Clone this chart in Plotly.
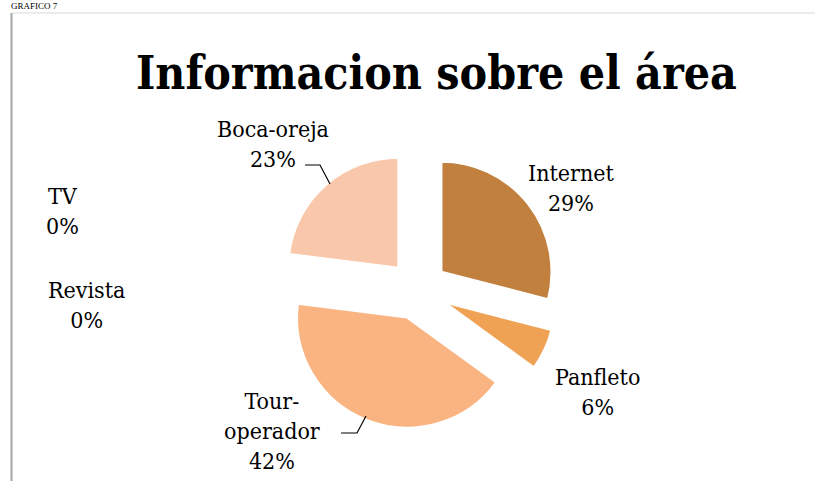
import plotly.graph_objects as go

W, H = 815, 481

categories = ["Internet", "Panfleto", "Tour-operador", "Boca-oreja", "Revista", "TV"]
percentages = [29, 6, 42, 23, 0, 0]
colors = ["#C2803F", "#F0A254", "#F9B481", "#F9C8AA", "#FBD9C4", "#FCE6D8"]
title_text = "Informacion sobre el área"
header_text = "GRAFICO 7"

# label centre positions in pixels (layout only)
label_pos = {
    "Internet": (571, 188),
    "Panfleto": (597, 392),
    "Tour-operador": (272, 431),
    "Boca-oreja": (273, 144),
    "Revista": (86, 305),
    "TV": (62, 211),
}

FONT = "DejaVu Serif Condensed, DejaVu Serif, serif"

def px(x):
    return x / W

def py(y):
    return 1 - y / H

fig = go.Figure()

# pie geometry
cx, cy, r, pull = 418, 290, 110, 0.27
half = r * (1 + pull)
fig.add_trace(go.Pie(
    labels=categories,
    values=percentages,
    sort=False,
    direction="clockwise",
    rotation=0,
    pull=[pull] * len(categories),
    marker=dict(colors=colors, line=dict(color="white", width=2)),
    textinfo="none",
    hoverinfo="label+percent",
    showlegend=False,
    domain=dict(x=[px(cx - half), px(cx + half)], y=[py(cy + half), py(cy - half)]),
))

annotations = []
for cat, pct in zip(categories, percentages):
    name = cat.replace("Tour-", "Tour-<br>") if len(cat) > 10 else cat
    x, y = label_pos[cat]
    annotations.append(dict(
        x=px(x), y=py(y), xref="paper", yref="paper",
        text=f"{name}<br>{pct}%", showarrow=False,
        xanchor="center", yanchor="middle", align="center",
        font=dict(family=FONT, size=23, color="black"),
    ))

annotations.append(dict(
    x=px(436), y=py(73), xref="paper", yref="paper", text=f"<b>{title_text}</b>",
    showarrow=False, xanchor="center", yanchor="middle",
    font=dict(family=FONT, size=46, color="black"),
))
annotations.append(dict(
    x=px(10), y=py(0), xref="paper", yref="paper", text=header_text,
    showarrow=False, xanchor="left", yanchor="top", borderpad=0,
    font=dict(family="Liberation Serif", size=9, color="black"),
))

def path(points):
    s = "M " + " L ".join(f"{px(a)},{py(b)}" for a, b in points)
    return s

top_y = 13
shapes = [
    dict(type="line", xref="paper", yref="paper", x0=px(12), x1=px(815), y0=py(top_y), y1=py(top_y),
         line=dict(color="#D9D9D9", width=1)),
    dict(type="line", xref="paper", yref="paper", x0=px(11.5), x1=px(11.5), y0=py(top_y), y1=py(481),
         line=dict(color="#A6A6A6", width=2)),
    dict(type="path", xref="paper", yref="paper", path=path([(305, 165), (320, 165), (330, 184)]),
         line=dict(color="black", width=1.2)),
    dict(type="path", xref="paper", yref="paper", path=path([(341, 433), (357, 433), (366, 416)]),
         line=dict(color="black", width=1.2)),
]

fig.update_layout(
    width=W, height=H,
    margin=dict(l=0, r=0, t=0, b=0),
    paper_bgcolor="white", plot_bgcolor="white",
    annotations=annotations, shapes=shapes,
)

fig.write_html("out.html", config={"displayModeBar": False},
               post_script="document.body.style.margin='0';")
